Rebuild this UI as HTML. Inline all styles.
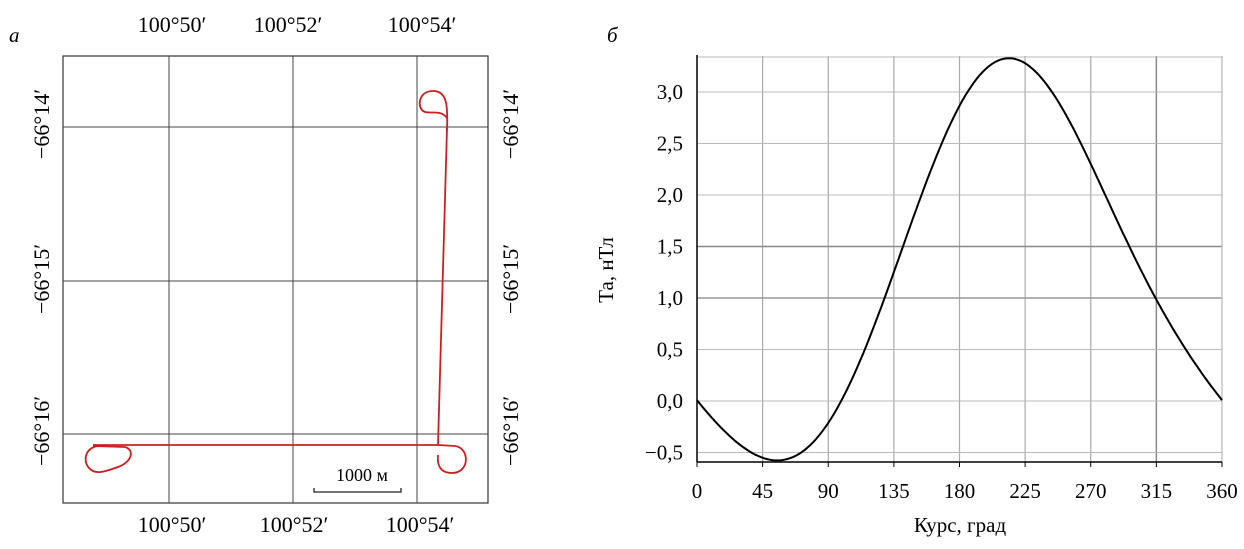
<!DOCTYPE html>
<html><head><meta charset="utf-8"><style>
body{margin:0;background:#fff;}
svg{display:block;font-family:"Liberation Serif",serif;}
</style></head><body>
<svg width="1244" height="549" viewBox="0 0 1244 549" xmlns="http://www.w3.org/2000/svg">
<rect width="1244" height="549" fill="#fff"/>
<!-- Panel a -->
<text x="9" y="42" font-size="21" font-style="italic">а</text>
<g font-size="22" text-anchor="middle">
<text x="172" y="32">100°50′</text>
<text x="288" y="32">100°52′</text>
<text x="422" y="32">100°54′</text>
<text x="172" y="532">100°50′</text>
<text x="294" y="532">100°52′</text>
<text x="420" y="532">100°54′</text>
</g>
<g font-size="22" text-anchor="middle">
<text transform="translate(49,124) rotate(-90)">−66°14′</text>
<text transform="translate(49,279) rotate(-90)">−66°15′</text>
<text transform="translate(49,431) rotate(-90)">−66°16′</text>
<text transform="translate(518,124) rotate(-90)">−66°14′</text>
<text transform="translate(518,279) rotate(-90)">−66°15′</text>
<text transform="translate(518,431) rotate(-90)">−66°16′</text>
</g>
<rect x="63" y="56" width="425" height="447" fill="none" stroke="#333" stroke-width="1.2"/>
<g stroke="#444" stroke-width="1">
<line x1="169" y1="56" x2="169" y2="503"/>
<line x1="293" y1="56" x2="293" y2="503"/>
<line x1="417" y1="56" x2="417" y2="503"/>
<line x1="63" y1="127" x2="488" y2="127"/>
<line x1="63" y1="281" x2="488" y2="281"/>
<line x1="63" y1="434" x2="488" y2="434"/>
</g>
<g fill="none" stroke="#cc2020" stroke-width="1.8">
<path d="M447,128 L438,445 L93,445"/>
<path d="M447,130 C448,105 447,91 433,91 C420,91 417,104 422,110 C427,116 440,108 447,118"/>
<path d="M438,445 L455,446 C470,448 470,473 452,473 C440,473 437,465 438,455"/>
<path d="M93,446 L125,447 C135,450 132,462 118,467 C104,472 95,475 89,468 C82,460 86,446 100,446"/>
</g>
<path d="M314,488 L314,492 L401,492 L401,488" fill="none" stroke="#222" stroke-width="1.3"/>
<text x="362" y="481" font-size="18" text-anchor="middle">1000 м</text>

<!-- Panel b -->
<text x="607" y="42" font-size="21" font-style="italic">б</text>
<g id="grid"></g>
<path id="curve" fill="none" stroke="#000" stroke-width="2"/>
<line x1="697" y1="55" x2="697" y2="462" stroke="#000" stroke-width="1.5"/>
<line x1="697" y1="462" x2="1222" y2="462" stroke="#000" stroke-width="1.5"/>
<g font-size="21" text-anchor="end" id="ylab"></g>
<g font-size="21" text-anchor="middle" id="xlab"></g>
<text transform="translate(613,270) rotate(-90)" font-size="21" text-anchor="middle">Та, нТл</text>
<text x="960" y="532" font-size="21" text-anchor="middle">Курс, град</text>
</svg>
<script>
var NS="http://www.w3.org/2000/svg";
function X(d){return 697+d*525/360;}
function Y(v){return 401-v*103;}
function el(p,t,a,txt){var e=document.createElementNS(NS,t);for(var k in a)e.setAttribute(k,a[k]);if(txt)e.textContent=txt;p.appendChild(e);return e;}
var g=document.getElementById('grid');
for(var d=45;d<=360;d+=45){
 el(g,'line',{x1:X(d),y1:56,x2:X(d),y2:462,stroke:'#aaa','stroke-width':1.2});}
el(g,'line',{x1:X(315),y1:56,x2:X(315),y2:462,stroke:'#888','stroke-width':1.4});
for(var v=-0.5;v<=3.01;v+=0.5){
 el(g,'line',{x1:697,y1:Y(v),x2:1222,y2:Y(v),stroke:'#bbb','stroke-width':1});}
el(g,'line',{x1:697,y1:Y(1.5),x2:1222,y2:Y(1.5),stroke:'#888','stroke-width':1.4});
el(g,'line',{x1:697,y1:Y(1.0),x2:1222,y2:Y(1.0),stroke:'#999','stroke-width':1.4});
el(g,'line',{x1:697,y1:57,x2:1222,y2:57,stroke:'#bbb','stroke-width':1});
el(g,'line',{x1:1222,y1:57,x2:1222,y2:462,stroke:'#bbb','stroke-width':1});
var yl=document.getElementById('ylab');
[["−0,5",-0.5],["0,0",0],["0,5",0.5],["1,0",1],["1,5",1.5],["2,0",2],["2,5",2.5],["3,0",3]].forEach(function(p){el(yl,'text',{x:683,y:Y(p[1])+7},p[0]);});
var xl=document.getElementById('xlab');
for(var d=0;d<=360;d+=45){el(xl,'text',{x:X(d),y:498},String(d));
 el(g,'line',{x1:X(d),y1:462,x2:X(d),y2:467,stroke:'#000'});}
// least-squares Fourier fit (3 harmonics)
var pts=[[0,0],[20,-0.3],[40,-0.52],[57,-0.57],[75,-0.45],[90,-0.22],[100,0],[115,0.5],[128,1.0],[141,1.5],[155,2.05],[170,2.55],[185,2.97],[200,3.25],[213,3.35],[228,3.26],[245,2.97],[258,2.62],[270,2.3],[283,1.9],[297,1.5],[315,1.0],[330,0.6],[345,0.3],[360,0]];
var H=3,n=2*H+1;
function basis(d){var r=d*Math.PI/180,b=[1];for(var k=1;k<=H;k++){b.push(Math.cos(k*r));b.push(Math.sin(k*r));}return b;}
var A=[],i,j,k;for(i=0;i<n;i++){A.push(new Array(n+1).fill(0));}
pts.forEach(function(p){var b=basis(p[0]);for(i=0;i<n;i++){for(j=0;j<n;j++)A[i][j]+=b[i]*b[j];A[i][n]+=b[i]*p[1];}});
for(i=0;i<n;i++){var m=i;for(k=i+1;k<n;k++)if(Math.abs(A[k][i])>Math.abs(A[m][i]))m=k;var t=A[i];A[i]=A[m];A[m]=t;
 for(k=0;k<n;k++){if(k==i)continue;var f=A[k][i]/A[i][i];for(j=i;j<=n;j++)A[k][j]-=f*A[i][j];}}
var c=[];for(i=0;i<n;i++)c.push(A[i][n]/A[i][i]);
var s="";for(var d=0;d<=360;d+=2){var b=basis(d),v=0;for(i=0;i<n;i++)v+=c[i]*b[i];s+=(d?" L":"M")+X(d).toFixed(1)+","+Y(v).toFixed(1);}
document.getElementById('curve').setAttribute('d',s);
</script>
</body></html>
